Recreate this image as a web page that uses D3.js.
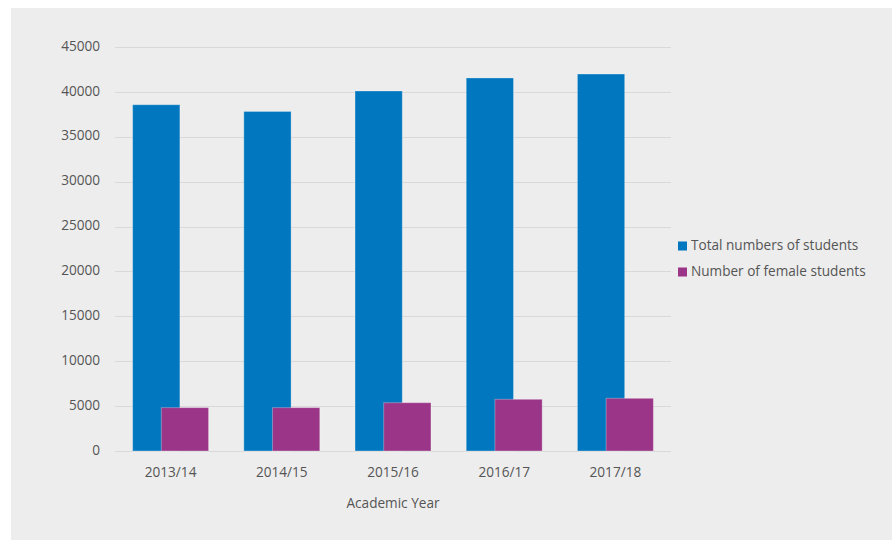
<!DOCTYPE html>
<html>
<head>
<meta charset="utf-8">
<script src="https://cdn.jsdelivr.net/npm/d3@7"></script>
<style>
  body { margin: 0; background: #fff; }
  svg text { font-family: "Open Sans", sans-serif; fill: #555555; }
</style>
</head>
<body>
<svg id="chart" width="892" height="541"></svg>
<script>
var years = ["2013/14", "2014/15", "2015/16", "2016/17", "2017/18"];
var total_students = [38570, 37820, 40100, 41550, 41990];
var female_students = [4830, 4830, 5380, 5760, 5870];
var y_ticks = [0, 5000, 10000, 15000, 20000, 25000, 30000, 35000, 40000, 45000];
var series_names = ["Total numbers of students", "Number of female students"];
var series_colors = ["#0077be", "#9b3587"];
var fsize = 13.6;

var svg = d3.select("#chart");

// grey panel behind everything
svg.append("rect")
  .attr("x", 11).attr("y", 8)
  .attr("width", 881).attr("height", 532)
  .attr("fill", "#ededed");

var x = d3.scaleBand().domain(years).range([115, 671]);
var y = d3.scaleLinear().domain([0, 45000]).range([451, 47]);

// gridlines + y labels
svg.append("g").selectAll("line").data(y_ticks).join("line")
  .attr("x1", 115).attr("x2", 671)
  .attr("y1", d => Math.round(y(d)) + 0.5)
  .attr("y2", d => Math.round(y(d)) + 0.5)
  .attr("stroke", "#d9d9d9").attr("stroke-width", 1.2);

svg.append("g").selectAll("text").data(y_ticks).join("text")
  .attr("x", 100).attr("y", d => y(d))
  .attr("text-anchor", "end")
  .attr("dominant-baseline", "middle")
  .attr("font-size", fsize)
  .text(d => d);

var barW = x.bandwidth() * 0.425;
var offset = barW * 0.607;
function groupLeft(d) {
  return x(d) + x.bandwidth() / 2 - (barW + offset) / 2;
}

var all_series = [total_students, female_students];
all_series.forEach(function(vals, si) {
  svg.append("g").selectAll("rect").data(years).join("rect")
    .attr("x", (d) => groupLeft(d) + si * offset)
    .attr("y", (d, i) => y(vals[i]))
    .attr("width", barW)
    .attr("height", (d, i) => y(0) - y(vals[i]))
    .attr("fill", series_colors[si])
    .attr("stroke", "rgba(255,255,255,0.3)")
    .attr("stroke-width", 1);
});

// x labels
svg.append("g").selectAll("text").data(years).join("text")
  .attr("x", d => x(d) + x.bandwidth() / 2)
  .attr("y", 473)
  .attr("text-anchor", "middle")
  .attr("dominant-baseline", "middle")
  .attr("font-size", fsize)
  .text(d => d);

svg.append("text")
  .attr("x", (115 + 671) / 2).attr("y", 504)
  .attr("text-anchor", "middle")
  .attr("dominant-baseline", "middle")
  .attr("font-size", fsize)
  .text("Academic Year");

// legend
var legend = svg.append("g").selectAll("g").data(series_names).join("g")
  .attr("transform", (d, i) => "translate(678," + (246 + i * 26) + ")");
legend.append("rect")
  .attr("x", 0).attr("y", -4.5)
  .attr("width", 9).attr("height", 9)
  .attr("fill", (d, i) => series_colors[i]);
legend.append("text")
  .attr("x", 13).attr("y", 0)
  .attr("dominant-baseline", "middle")
  .attr("font-size", fsize)
  .text(d => d);
</script>
</body>
</html>
